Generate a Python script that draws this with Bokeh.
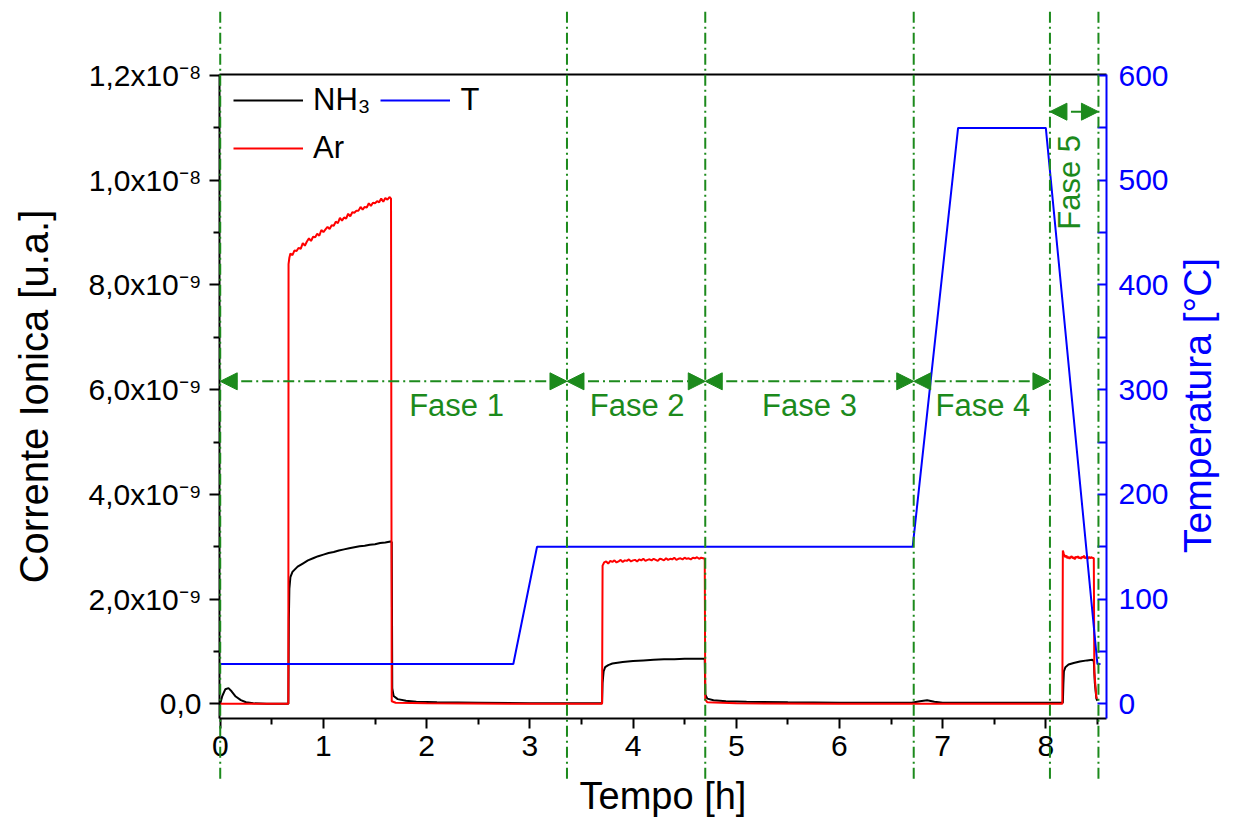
import math
from bokeh.plotting import figure
from bokeh.models import (Range1d, LinearAxis, FixedTicker, Legend, LegendItem,
                          Arrow, NormalHead)
from bokeh.core.properties import value
from bokeh.embed import file_html
from bokeh.resources import INLINE

# ---------------- data ----------------
# NH3 ion current (x 1e-9 u.a.) vs time [h]
nh3_t = [0.00, 0.02, 0.05, 0.08, 0.11, 0.15, 0.20, 0.25, 0.32, 0.45, 0.66,
         0.665, 0.67, 0.68, 0.70, 0.75, 0.80, 0.85, 0.90, 0.95, 1.00, 1.05, 1.10,
         1.15, 1.20, 1.25, 1.30, 1.35, 1.40, 1.45, 1.50, 1.55, 1.60, 1.65, 1.662,
         1.667, 1.68, 1.72, 1.80, 1.90, 2.10, 2.50, 3.00, 3.70,
         3.705, 3.715, 3.73, 3.76, 3.80, 3.90, 4.00, 4.10, 4.20, 4.30, 4.40, 4.50,
         4.60, 4.695,
         4.70, 4.72, 4.78, 4.90, 5.10, 5.50, 6.00, 6.70, 6.78, 6.85, 6.92, 7.00,
         7.50, 8.165,
         8.17, 8.175, 8.19, 8.22, 8.27, 8.33, 8.40, 8.45, 8.465, 8.475, 8.49, 8.50]
nh3_i = [0.00, 0.15, 0.28, 0.30, 0.24, 0.14, 0.07, 0.03, 0.01, 0.00, 0.00,
         1.62, 2.20, 2.42, 2.52, 2.62, 2.68, 2.74, 2.78, 2.82, 2.85, 2.88, 2.90,
         2.93, 2.95, 2.97, 2.99, 3.01, 3.02, 3.04, 3.05, 3.07, 3.08, 3.10, 3.09,
         0.30, 0.15, 0.09, 0.06, 0.04, 0.03, 0.02, 0.01, 0.01,
         0.40, 0.62, 0.70, 0.74, 0.77, 0.80, 0.82, 0.83, 0.84, 0.85, 0.85, 0.86,
         0.86, 0.86,
         0.18, 0.10, 0.07, 0.05, 0.04, 0.03, 0.02, 0.02, 0.05, 0.07, 0.04, 0.02,
         0.02, 0.02,
         0.38, 0.62, 0.70, 0.75, 0.78, 0.81, 0.83, 0.84, 0.82, 0.40, 0.10, 0.06]

# Ar ion current (x 1e-9 u.a.) vs time [h]
ar_t = [0.00, 0.66, 0.662, 0.67,
        0.68, 0.70, 0.72, 0.74, 0.76, 0.78, 0.80, 0.82, 0.84, 0.86, 0.88, 0.90,
        0.92, 0.94, 0.96, 0.98, 1.00, 1.02, 1.04, 1.06, 1.08, 1.10, 1.12, 1.14,
        1.16, 1.18, 1.20, 1.22, 1.24, 1.26, 1.28, 1.30, 1.32, 1.34, 1.36, 1.38,
        1.40, 1.42, 1.44, 1.46, 1.48, 1.50, 1.52, 1.54, 1.56, 1.58, 1.60, 1.62,
        1.64, 1.655,
        1.662, 1.70, 2.00, 3.00, 3.70,
        3.705, 3.72, 3.74, 3.76, 3.78, 3.80, 3.82, 3.84, 3.86, 3.88, 3.90, 3.92,
        3.94, 3.96, 3.98, 4.00, 4.02, 4.04, 4.06, 4.08, 4.10, 4.12, 4.14, 4.16,
        4.18, 4.20, 4.22, 4.24, 4.26, 4.28, 4.30, 4.32, 4.34, 4.36, 4.38, 4.40,
        4.42, 4.44, 4.46, 4.48, 4.50, 4.52, 4.54, 4.56, 4.58, 4.60, 4.62, 4.64,
        4.66, 4.68, 4.695,
        4.70, 4.72, 5.00, 6.00, 8.16,
        8.165, 8.175, 8.19, 8.20, 8.21, 8.22, 8.23, 8.24, 8.25, 8.26, 8.27, 8.28,
        8.29, 8.30, 8.31, 8.32, 8.33, 8.34, 8.35, 8.36, 8.37, 8.38, 8.39, 8.40,
        8.41, 8.42, 8.43, 8.44, 8.45, 8.465,
        8.47, 8.49, 8.50]
ar_i = [0.00, 0.00, 8.40, 8.52,
        8.60, 8.57, 8.66, 8.65, 8.71, 8.69, 8.80, 8.75, 8.83, 8.89, 8.84, 8.92,
        8.91, 8.98, 8.94, 9.05, 9.01, 9.06, 9.11, 9.07, 9.14, 9.13, 9.21, 9.18,
        9.28, 9.23, 9.29, 9.27, 9.36, 9.31, 9.39, 9.38, 9.42, 9.42, 9.49, 9.44,
        9.49, 9.48, 9.56, 9.51, 9.57, 9.56, 9.60, 9.58, 9.65, 9.59, 9.66, 9.63,
        9.68, 9.65,
        0.05, 0.02, 0.01, 0.00, 0.00,
        2.64, 2.70, 2.72, 2.68, 2.73, 2.71, 2.74, 2.70, 2.72, 2.75, 2.71, 2.74,
        2.73, 2.76, 2.72, 2.74, 2.75, 2.72, 2.76, 2.74, 2.77, 2.73, 2.75, 2.76,
        2.74, 2.77, 2.75, 2.73, 2.77, 2.76, 2.74, 2.78, 2.75, 2.77, 2.76, 2.79,
        2.75, 2.77, 2.78, 2.76, 2.79, 2.77, 2.78, 2.76, 2.79, 2.78, 2.80, 2.77,
        2.79, 2.78, 2.77,
        0.08, 0.03, 0.01, 0.00, 0.00,
        2.93, 2.86, 2.80, 2.83, 2.78, 2.81, 2.77, 2.80, 2.82, 2.78, 2.80, 2.76,
        2.81, 2.79, 2.82, 2.78, 2.80, 2.77, 2.81, 2.79, 2.83, 2.78, 2.80, 2.79,
        2.77, 2.81, 2.78, 2.80, 2.79, 2.78,
        0.60, 0.12, 0.10]

# Temperature [°C]
temp_t = [0.00, 2.84, 3.07, 6.71, 7.15, 8.00, 8.50, 8.53]
temp_c = [38, 38, 150, 150, 550, 550, 38, 38]

# axes
x_ticks = [0, 1, 2, 3, 4, 5, 6, 7, 8]
x_minor = [0.5, 1.5, 2.5, 3.5, 4.5, 5.5, 6.5, 7.5, 8.5]
y_ticks = [0, 2, 4, 6, 8, 10, 12]
y_minor = [1, 3, 5, 7, 9, 11]
y_tick_labels = ["0,0", "2,0x10⁻⁹", "4,0x10⁻⁹", "6,0x10⁻⁹", "8,0x10⁻⁹",
                 "1,0x10⁻⁸", "1,2x10⁻⁸"]
t_ticks = [0, 100, 200, 300, 400, 500, 600]
t_minor = [50, 150, 250, 350, 450, 550]

# phases
phase_bounds = [0.0, 3.36, 4.70, 6.72, 8.04, 8.51]
phase_names = ["Fase 1", "Fase 2", "Fase 3", "Fase 4", "Fase 5"]
arrow_y = [6.16, 6.16, 6.16, 6.16, 11.31]
label_x = [2.29, 4.04, 5.71, 7.39, 8.23]
label_y = [5.70, 5.70, 5.70, 5.70, 9.96]

# ---------------- style ----------------
FONT = "Liberation Sans"
GREEN = "#1c8a1c"
BLUE = "#0000ff"
RED = "#ff0000"
DASH = "11 4 2 4"

Y0, Y1 = -0.28, 12.02
T_SCALE = 50.0  # degC per 1e-9 unit, so 600 degC aligns with 1.2e-8

p = figure(width=1226, height=827, output_backend="svg", toolbar_location=None,
           x_range=Range1d(-0.007, 8.588), y_range=Range1d(Y0, Y1),
           min_border_left=219, min_border_top=74, min_border_right=120,
           min_border_bottom=109)
p.extra_y_ranges = {"temp": Range1d(Y0 * T_SCALE, Y1 * T_SCALE)}
p.outline_line_color = None
p.grid.visible = False
p.background_fill_color = "white"
p.border_fill_color = "white"

# bottom axis
xa = p.xaxis[0]
xa.ticker = FixedTicker(ticks=x_ticks, minor_ticks=x_minor)
xa.axis_label = "Tempo [h]"
# left axis
ya = p.yaxis[0]
ya.ticker = FixedTicker(ticks=y_ticks, minor_ticks=y_minor)
ya.major_label_overrides = {t: s for t, s in zip(y_ticks, y_tick_labels)}
ya.axis_label = "Corrente Ionica [u.a.]"

for ax in (xa, ya):
    ax.axis_line_width = 2
    ax.axis_line_color = "black"
    ax.major_tick_line_width = 2
    ax.minor_tick_line_width = 2
    ax.major_tick_line_color = "black"
    ax.minor_tick_line_color = "black"
    ax.major_tick_in = 0
    ax.major_tick_out = 10
    ax.minor_tick_in = 0
    ax.minor_tick_out = 6
    ax.major_label_text_font = FONT
    ax.major_label_text_font_size = "30px"
    ax.major_label_text_color = "black"
    ax.axis_label_text_font = FONT
    ax.axis_label_text_font_style = "normal"
    ax.axis_label_text_color = "black"
xa.axis_label_text_font_size = "38px"
ya.axis_label_text_font_size = "40px"
xa.major_label_standoff = 7
xa.axis_label_standoff = 16
ya.major_label_standoff = 8
ya.axis_label_standoff = 30

# top axis (frame line only)
top = LinearAxis(ticker=FixedTicker(ticks=[]), axis_line_width=2,
                 axis_line_color="black", major_label_text_font_size="0px")
p.add_layout(top, "above")

# right axis (temperature)
ra = LinearAxis(y_range_name="temp",
                ticker=FixedTicker(ticks=t_ticks, minor_ticks=t_minor),
                axis_line_width=2, axis_line_color=BLUE,
                major_tick_line_color=BLUE, minor_tick_line_color=BLUE,
                major_tick_line_width=2, minor_tick_line_width=2,
                major_tick_in=9, major_tick_out=0, minor_tick_in=9, minor_tick_out=0,
                major_label_text_font=FONT, major_label_text_font_size="30px",
                major_label_text_color=BLUE, major_label_standoff=12)
p.add_layout(ra, "right")

# curves
r_nh3 = p.line(nh3_t, nh3_i, line_color="black", line_width=2)
r_ar = p.line(ar_t, ar_i, line_color=RED, line_width=2)
r_t = p.line(temp_t, temp_c, line_color=BLUE, line_width=2, y_range_name="temp")

# phase boundaries (extend beyond the frame, unclipped)
p.segment(x0=phase_bounds, x1=phase_bounds,
          y0=[Y0 - 1.15] * len(phase_bounds), y1=[Y1 + 1.22] * len(phase_bounds),
          line_color=GREEN, line_width=2, line_dash=DASH, level="overlay")

# phase arrows
for i in range(len(phase_names)):
    p.add_layout(Arrow(x_start=phase_bounds[i], y_start=arrow_y[i],
                       x_end=phase_bounds[i + 1], y_end=arrow_y[i],
                       line_color=GREEN, line_width=2, line_dash=DASH,
                       start=NormalHead(size=17, fill_color=GREEN, line_color=GREEN, line_width=1),
                       end=NormalHead(size=17, fill_color=GREEN, line_color=GREEN, line_width=1)))

# phase labels
label_angle = [0, 0, 0, 0, math.pi / 2]
p.text(x=label_x, y=label_y, text=phase_names, angle=label_angle,
       text_font=value(FONT), text_font_size="31px", text_color=GREEN,
       text_align="center", text_baseline="middle")

# right axis title (reads bottom-to-top), drawn outside the frame
p.text(x=[9.47], y=[5.70], text=["Temperatura [°C]"], angle=[math.pi / 2],
       text_font=value(FONT), text_font_size="39px", text_color=BLUE,
       text_align="center", text_baseline="middle", level="overlay")

# legend (column-major fill: NH3, Ar in first column; T in second)
legend = Legend(items=[LegendItem(label="NH₃", renderers=[r_nh3]),
                       LegendItem(label="Ar", renderers=[r_ar]),
                       LegendItem(label="T", renderers=[r_t])],
                ncols=2, location=(14, 551), margin=0, padding=0,
                spacing=10, glyph_width=70, glyph_height=38, label_height=38,
                label_standoff=10, label_text_font=FONT,
                label_text_font_size="31px", label_text_color="black",
                background_fill_alpha=0, border_line_color=None)
p.add_layout(legend)

open("out.html", "w").write(file_html(p, INLINE))
